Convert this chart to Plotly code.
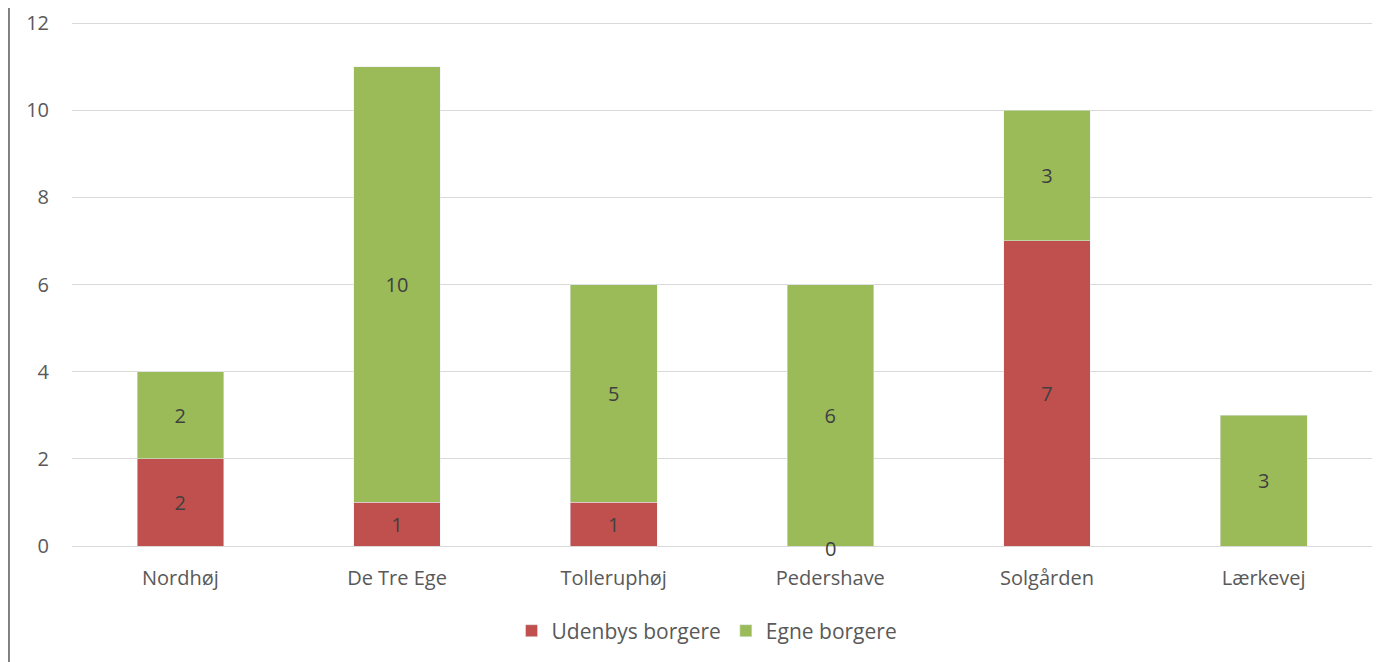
import plotly.graph_objects as go

categories = ["Nordhøj", "De Tre Ege", "Tolleruphøj", "Pedershave", "Solgården", "Lærkevej"]
udenbys = [2, 1, 1, 0, 7, None]
egne = [2, 10, 5, 6, 3, 3]
y_ticks = [0, 2, 4, 6, 8, 10, 12]

RED = "#C0504D"
GREEN = "#9BBB59"
FONT = "Open Sans, Liberation Sans, Arial, sans-serif"

fig = go.Figure()
fig.add_trace(go.Bar(
    x=categories, y=udenbys, name="Udenbys borgere", marker_color=RED,
    text=[str(v) if v else "" for v in udenbys], textposition="inside",
    insidetextanchor="middle", textfont=dict(color="#404040", size=20, family=FONT),
))
fig.add_trace(go.Bar(
    x=categories, y=egne, name="Egne borgere", marker_color=GREEN,
    text=[str(v) if v else "" for v in egne], textposition="inside",
    insidetextanchor="middle", textfont=dict(color="#404040", size=20, family=FONT),
))

# zero-value labels (shown at baseline)
for c, v in zip(categories, udenbys):
    if v == 0:
        fig.add_annotation(x=c, y=0, text="0", showarrow=False, yanchor="middle",
                           yshift=-2, font=dict(color="#404040", size=20, family=FONT))

# left border line
fig.add_shape(type="line", xref="paper", yref="paper", x0=-0.0485, x1=-0.0485,
              y0=-0.3, y1=1.1, line=dict(color="#7F7F7F", width=2))

fig.update_layout(
    barmode="stack",
    bargap=0.6,
    width=1392, height=654,
    margin=dict(l=64, r=28, t=13, b=116, autoexpand=False),
    plot_bgcolor="white", paper_bgcolor="white",
    font=dict(family=FONT, size=20, color="#595959"),
    showlegend=True,
    legend=dict(orientation="h", x=0.4885, xanchor="center", y=-0.162, yanchor="middle",
                font=dict(size=21, color="#595959"), itemwidth=30, traceorder="normal"),
    uniformtext=dict(mode="show", minsize=10),
)
fig.update_yaxes(range=[0, 12.046], tickvals=y_ticks, showgrid=True, gridcolor="#D9D9D9",
                 gridwidth=1, zeroline=False, showline=False, ticks="", automargin=False,
                 ticklabelstandoff=22, tickfont=dict(size=20, color="#595959"))
fig.update_xaxes(showline=True, linecolor="#D9D9D9", linewidth=1, ticks="", automargin=False,
                 ticklabelstandoff=14, tickfont=dict(size=20, color="#595959"))

fig.write_html("out.html")
